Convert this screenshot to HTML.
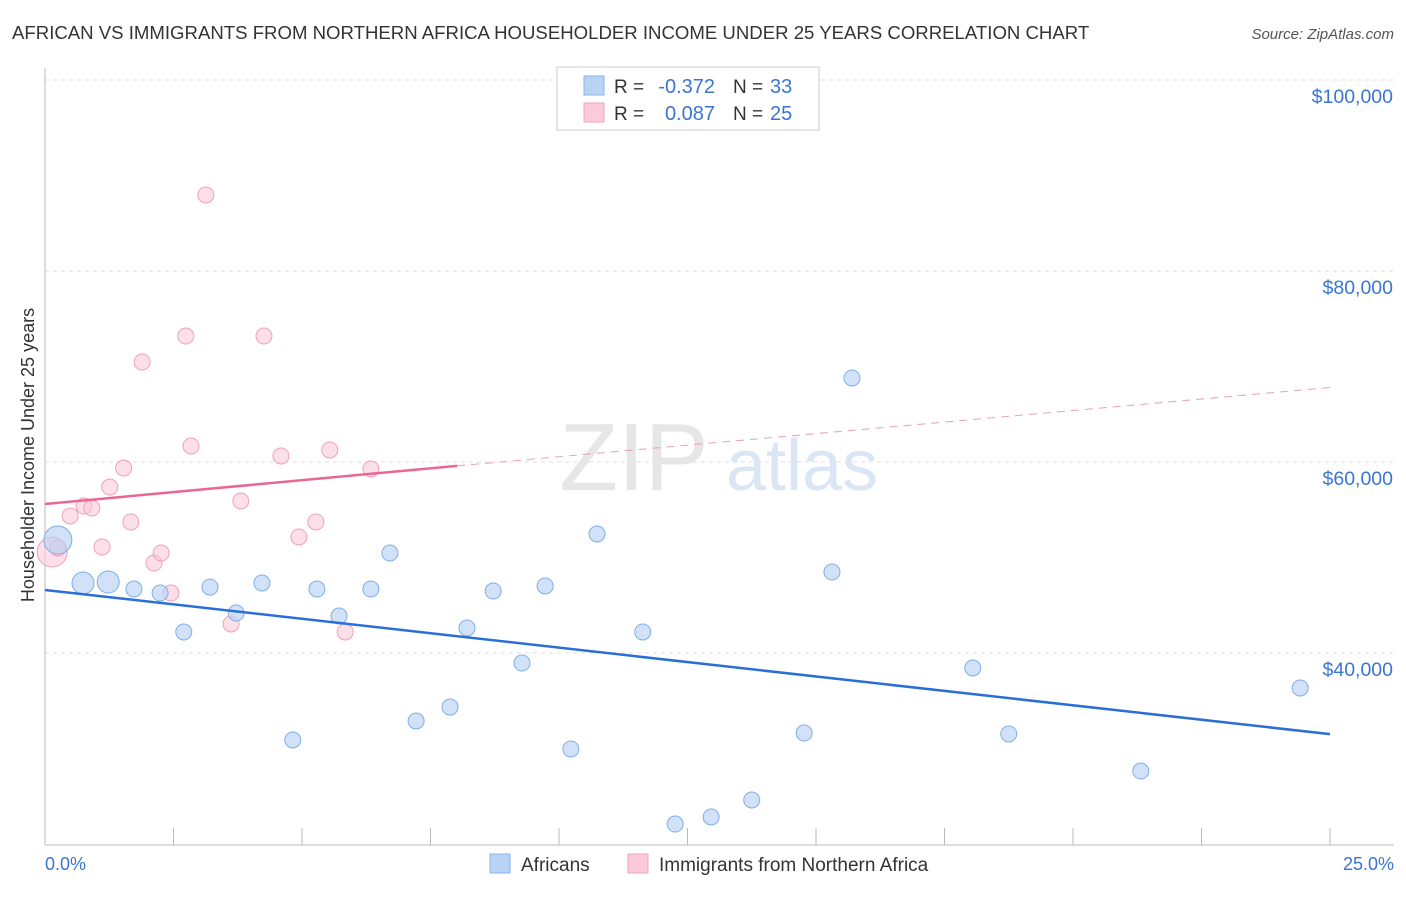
<!DOCTYPE html>
<html><head><meta charset="utf-8"><style>
body{margin:0;background:#fff;font-family:"Liberation Sans",sans-serif}
svg text{font-family:"Liberation Sans",sans-serif}
</style></head><body>
<svg width="1406" height="892" xmlns="http://www.w3.org/2000/svg">
<text x="12" y="39" font-size="18.6" fill="#333">AFRICAN VS IMMIGRANTS FROM NORTHERN AFRICA HOUSEHOLDER INCOME UNDER 25 YEARS CORRELATION CHART</text>
<text x="1394" y="39" font-size="15" fill="#555" text-anchor="end" font-style="italic">Source: ZipAtlas.com</text>
<g id="grid"></g>
<g>
<text x="634" y="490" font-size="96" font-family="Liberation Serif" fill="#e6e6e6" text-anchor="middle">ZIP</text>
<text x="802" y="490" font-size="72" fill="#dbe6f5" text-anchor="middle">atlas</text>
</g>
<g id="marks"></g>
<text x="34" y="455" font-size="18" fill="#333" text-anchor="middle" transform="rotate(-90 34 455)">Householder Income Under 25 years</text>
<text x="45" y="870" font-size="18" fill="#3a76d0">0.0%</text>
<text x="1394" y="870" font-size="18" fill="#3a76d0" text-anchor="end">25.0%</text>
<g>
<rect x="557" y="67" width="262" height="63" fill="#fff" stroke="#ccc"/>
<rect x="584" y="76" width="20" height="19" fill="#b9d3f5" stroke="#8ab3e8"/>
<rect x="584" y="103" width="20" height="19" fill="#fccadb" stroke="#f0a3bd"/>
<text x="614" y="93" font-size="19" fill="#333">R =</text>
<text x="715" y="93" font-size="20" fill="#3a76d0" text-anchor="end">-0.372</text>
<text x="733" y="93" font-size="19" fill="#333">N =</text>
<text x="770" y="93" font-size="20" fill="#3a76d0">33</text>
<text x="614" y="120" font-size="19" fill="#333">R =</text>
<text x="715" y="120" font-size="20" fill="#3a76d0" text-anchor="end">0.087</text>
<text x="733" y="120" font-size="19" fill="#333">N =</text>
<text x="770" y="120" font-size="20" fill="#3a76d0">25</text>
</g>
<g>
<rect x="490" y="854" width="20" height="19" fill="#b9d3f5" stroke="#8ab3e8"/>
<text x="521" y="871" font-size="19" fill="#333">Africans</text>
<rect x="628" y="854" width="20" height="19" fill="#fccadb" stroke="#f0a3bd"/>
<text x="659" y="871" font-size="19" fill="#333">Immigrants from Northern Africa</text>
</g>
</svg>
<script>
const yTicks=[40000,60000,80000,100000];
const yTickLabels=["$40,000","$60,000","$80,000","$100,000"];
const blueX=[0.25,0.74,1.23,1.73,2.24,2.70,3.21,3.72,4.22,4.82,5.29,5.72,6.34,6.71,7.22,7.88,8.21,8.72,9.28,9.73,10.23,10.74,11.63,12.26,12.96,13.75,14.77,15.31,15.70,18.05,18.75,21.32,24.42];
const blueY=[51830,47330,47430,46700,46280,42200,46900,44190,47330,30890,46700,43870,46700,50470,32880,34340,42620,46490,38950,47020,29950,52460,42200,22090,22830,24610,31620,48480,68800,38430,31520,27640,36340];
const pinkX=[0.14,0.25,0.49,0.76,0.91,1.11,1.26,1.53,1.67,1.89,2.12,2.26,2.45,2.74,2.84,3.13,3.62,3.81,4.26,4.59,4.94,5.27,5.54,5.84,6.34];
const pinkY=[50580,51000,54350,55390,55180,51100,57380,59370,53720,70470,49420,50470,46280,73190,61680,87960,43040,55920,73190,60630,52150,53720,61260,42200,59270];
const blueTrend=[46600,31500];
const pinkTrend=[55600,59600,67800];
const NS="http://www.w3.org/2000/svg";
const xs=v=>45+v/25*1285, ys=v=>80+(100000-v)/20000*191;
function mk(t,a,p){const e=document.createElementNS(NS,t);for(const k in a)e.setAttribute(k,a[k]);p.appendChild(e);return e;}
const g=document.getElementById('grid'), m=document.getElementById('marks');
const ax=mk('line',{x1:45,y1:68,x2:45,y2:845,stroke:'#bbb'},g);


const bx=mk('line',{x1:45,y1:845,x2:1394,y2:845,stroke:'#bbb'},g);


for(let i=1;i<=10;i++){const t=mk('line',{x1:xs(i*2.5),y1:828,x2:xs(i*2.5),y2:845,stroke:'#bbb'},g);

}
yTicks.forEach((v,i)=>{const l=mk('line',{x1:45,y1:ys(v),x2:1394,y2:ys(v),stroke:'#ddd','stroke-dasharray':'4 4'},g);


const t=mk('text',{x:1393,y:ys(v)+23,'font-size':19.5,fill:'#3a76d0','text-anchor':'end'},g);t.textContent=yTickLabels[i];

});
pinkX.forEach((x,i)=>{const r=(i==0)?15:8;const c=mk('circle',{cx:xs(x),cy:ys(pinkY[i]),r:r,fill:'#fccadb',stroke:'#eea0ba','fill-opacity':0.6},m);

});
blueX.forEach((x,i)=>{const r=(i==0)?14:(i<3?11:8);const c=mk('circle',{cx:xs(x),cy:ys(blueY[i]),r:r,fill:'#b9d3f5',stroke:'#80aee6','fill-opacity':0.65},m);

});
const bl=mk('line',{x1:xs(0),y1:ys(blueTrend[0]),x2:xs(25),y2:ys(blueTrend[1]),stroke:'#2a6fd6','stroke-width':2.5},m);


const pl=mk('line',{x1:xs(0),y1:ys(pinkTrend[0]),x2:xs(8.02),y2:ys(pinkTrend[1]),stroke:'#e8688f','stroke-width':2.5},m);


const pd=mk('line',{x1:xs(8.02),y1:ys(pinkTrend[1]),x2:xs(25),y2:ys(pinkTrend[2]),stroke:'#e8a0b8','stroke-width':1,'stroke-dasharray':'8 6'},m);


</script>
</body></html>
